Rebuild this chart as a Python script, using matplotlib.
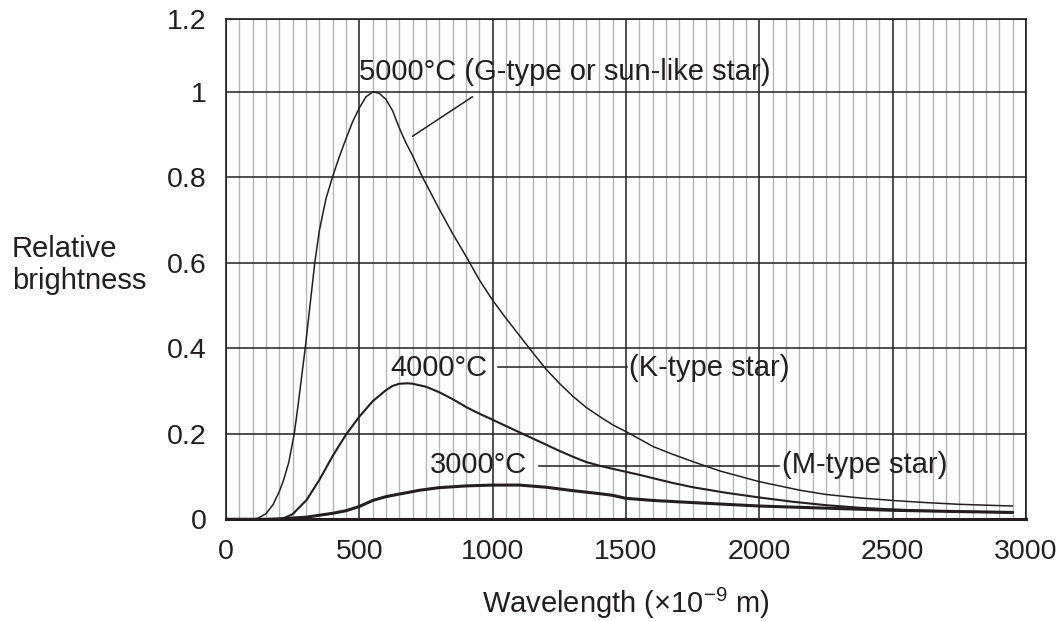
import matplotlib.pyplot as plt
from matplotlib.ticker import MultipleLocator

plt.rcParams['font.family'] = ['Liberation Sans', 'DejaVu Sans']

TEXT_COLOR = "#231f20"

# ================= DATA =================
wl_5000 = [0, 100, 118, 150, 177, 200, 215, 235, 256, 271, 285, 297, 315, 333, 350, 375,
           399, 425, 450, 475, 500, 525, 552, 575, 600, 625, 650, 675, 700, 737, 800, 850,
           903, 950, 999, 1050, 1100, 1150, 1199, 1250, 1302, 1350, 1402, 1450, 1500, 1550,
           1602, 1675, 1750, 1852, 2000, 2152, 2250, 2375, 2500, 2625, 2750, 2850, 2950]
br_5000 = [0, 0, 0.002, 0.013, 0.035, 0.065, 0.09, 0.132, 0.2, 0.27, 0.34, 0.4, 0.5, 0.6,
           0.675, 0.75, 0.8, 0.848, 0.89, 0.93, 0.962, 0.988, 1.0, 0.996, 0.982, 0.955,
           0.915, 0.88, 0.85, 0.8, 0.725, 0.668, 0.612, 0.56, 0.513, 0.47, 0.43, 0.39, 0.352,
           0.318, 0.287, 0.262, 0.24, 0.221, 0.205, 0.188, 0.17, 0.152, 0.135, 0.113, 0.088,
           0.068, 0.058, 0.05, 0.044, 0.039, 0.035, 0.033, 0.031]

wl_4000 = [0, 200, 215, 250, 302, 350, 400, 450, 500, 550, 600, 625, 650, 681, 700, 750,
           800, 850, 902, 950, 999, 1050, 1102, 1150, 1202, 1250, 1302, 1350, 1402, 1450,
           1500, 1550, 1602, 1675, 1750, 1875, 2000, 2125, 2250, 2375, 2500, 2625, 2750,
           2850, 2950]
br_4000 = [0, 0, 0.002, 0.012, 0.045, 0.092, 0.148, 0.198, 0.24, 0.276, 0.302, 0.312,
           0.317, 0.318, 0.317, 0.31, 0.297, 0.281, 0.262, 0.247, 0.233, 0.218, 0.203, 0.189,
           0.174, 0.16, 0.146, 0.134, 0.125, 0.118, 0.111, 0.104, 0.096, 0.085, 0.075, 0.062,
           0.051, 0.041, 0.033, 0.027, 0.023, 0.02, 0.018, 0.017, 0.016]

wl_3000 = [0, 150, 200, 302, 400, 450, 500, 550, 600, 650, 727, 800, 900, 1000, 1100, 1200,
           1300, 1400, 1450, 1500, 1602, 1750, 2000, 2250, 2500, 2750, 2950]
br_3000 = [0, 0, 0.001, 0.005, 0.014, 0.02, 0.03, 0.044, 0.053, 0.059, 0.068, 0.074, 0.078,
           0.08, 0.08, 0.075, 0.067, 0.06, 0.056, 0.049, 0.044, 0.039, 0.031, 0.026, 0.021,
           0.018, 0.016]

x_ticks = [0, 500, 1000, 1500, 2000, 2500, 3000]
y_ticks = [0, 0.2, 0.4, 0.6, 0.8, 1.0, 1.17]
y_tick_labels = ["0", "0.2", "0.4", "0.6", "0.8", "1", "1.2"]

# ================= PLOT =================
fig = plt.figure(figsize=(10.64, 6.21), dpi=100)
ax = fig.add_axes([0.2124, 0.1638, 0.7519, 0.8056])

ax.set_xlim(0, 3000)
ax.set_ylim(0, 1.17)

ax.xaxis.set_minor_locator(MultipleLocator(50))
ax.grid(which="minor", axis="x", color="#b5b5b5", linewidth=1.0, zorder=0)
ax.grid(which="major", axis="both", color="#231f20", linewidth=1.1, zorder=1)
ax.set_axisbelow(True)

line_kw = dict(color="#231f20", zorder=3, solid_joinstyle="round", solid_capstyle="round")
ax.plot(wl_5000, br_5000, linewidth=1.1, **line_kw)
ax.plot(wl_4000, br_4000, linewidth=1.5, **line_kw)
ax.plot(wl_3000, br_3000, linewidth=2.2, **line_kw)

ax.set_xticks(x_ticks)
ax.set_yticks(y_ticks)
ax.set_yticklabels(y_tick_labels)
ax.tick_params(which="both", length=0, labelsize=20.5, colors=TEXT_COLOR)
ax.tick_params(axis="x", pad=14)
ax.tick_params(axis="y", pad=14)

for side in ["left", "right", "top"]:
    ax.spines[side].set_linewidth(1.2)
    ax.spines[side].set_color("#231f20")
ax.spines["bottom"].set_linewidth(2.2)
ax.spines["bottom"].set_color("#231f20")

# ================= LABELS =================
fs = 21
ax.text(500, 1.027, "5000°C (G-type or sun-like star)", fontsize=fs, color=TEXT_COLOR,
        ha="left", va="baseline", zorder=5)
ax.plot([924, 700], [0.988, 0.896], color="#231f20", linewidth=1.1, zorder=4)

ax.text(982, 0.335, "4000°C", fontsize=fs, color=TEXT_COLOR, ha="right", va="baseline",
        zorder=5)
ax.plot([1019, 1503], [0.355, 0.355], color="#231f20", linewidth=1.1, zorder=4)
ax.text(1510, 0.335, "(K-type star)", fontsize=fs, color=TEXT_COLOR, ha="left",
        va="baseline", zorder=5)

ax.text(1130, 0.109, "3000°C", fontsize=fs, color=TEXT_COLOR, ha="right", va="baseline",
        zorder=5)
ax.plot([1175, 2075], [0.125, 0.125], color="#231f20", linewidth=1.1, zorder=4)
ax.text(2084, 0.109, "(M-type star)", fontsize=fs, color=TEXT_COLOR, ha="left",
        va="baseline", zorder=5)

fig.text(12 / 1064, 1 - 265 / 621, "Relative\nbrightness", fontsize=fs, color=TEXT_COLOR,
         ha="left", va="center", linespacing=1.2)
fig.text(626 / 1064, 1 - 613 / 621, "Wavelength (×10$^{\\mathregular{-9}}$ m)", fontsize=fs,
         color=TEXT_COLOR, ha="center", va="baseline")

fig.savefig("out.png", dpi=100)
plt.close(fig)
